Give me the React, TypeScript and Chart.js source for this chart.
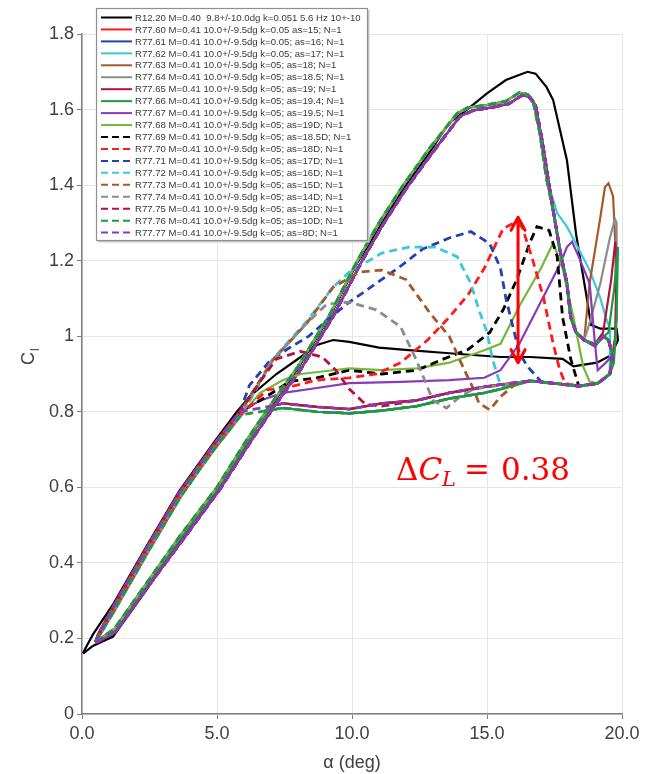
import { useEffect, useRef } from "react";
import { Chart, registerables } from "chart.js";
Chart.register(...registerables);

// ---------- axis ticks ----------
const X_TICKS = [0, 5, 10, 15, 20];
const Y_TICKS = [0, 0.2, 0.4, 0.6, 0.8, 1, 1.2, 1.4, 1.6, 1.8];

// ---------- shared R77 segments (alpha in deg, Cl) ----------
const UP_RISE_A = [0.5, 1.2, 2.4, 3.6, 5.0, 6.1, 7.0, 8.0, 9.2, 10.2, 11.0, 11.9, 12.9, 13.9, 14.3, 15.0, 15.7, 16.2, 16.5, 16.7, 16.96, 17.2];
const UP_RISE_C = [0.19, 0.225, 0.347, 0.468, 0.6, 0.725, 0.82, 0.92, 1.06, 1.2, 1.3, 1.4, 1.5, 1.59, 1.605, 1.612, 1.622, 1.645, 1.64, 1.625, 1.537, 1.42];
const UP_RISE_B_A = [0.55, 1.25, 2.45, 3.7, 5.1, 6.2, 7.1, 8.1, 9.3, 10.3, 11.1, 12.0, 13.0, 14.0, 14.5, 15.2, 15.8, 16.3, 16.55, 16.8, 17.05, 17.3];
const UP_RISE_B_C = [0.19, 0.218, 0.338, 0.458, 0.594, 0.716, 0.812, 0.912, 1.052, 1.19, 1.29, 1.39, 1.488, 1.582, 1.598, 1.606, 1.615, 1.638, 1.634, 1.612, 1.515, 1.4];
const UP_DROP_A = [17.45, 17.7, 17.96, 18.1, 18.3, 18.6];
const UP_DROP_C = [1.334, 1.228, 1.14, 1.05, 1.01, 0.99];
const UP_END_A = [19.0, 19.3, 19.5, 19.65];
const UP_END_C = [0.975, 1.0, 0.99, 0.95];
const DN_TOP_A = [19.55, 19.1, 18.4];
const DN_TOP_C = [0.9, 0.875, 0.868];
const DN_MID_A = [17.5, 16.6];
const DN_MID_C = [0.875, 0.882];
const PLAT_A = [15.5, 14.9, 13.6, 12.4, 11.1, 9.9, 8.7, 7.45, 7.0];
const PLAT_C = [0.872, 0.866, 0.85, 0.83, 0.822, 0.807, 0.813, 0.822, 0.815];
const PLAT_B_A = [15.5, 14.9, 13.6, 12.4, 11.1, 9.9, 8.7, 7.45, 7.0];
const PLAT_B_C = [0.86, 0.85, 0.835, 0.815, 0.803, 0.796, 0.8, 0.81, 0.805];
const RIGHT_DN_A = [6.5, 6.0, 5.0, 3.6, 2.4, 1.2, 0.5];
const RIGHT_DN_C = [0.765, 0.705, 0.595, 0.462, 0.342, 0.222, 0.19];
const LEFT_DN_A = [5.85, 4.9, 4.37, 3.6, 2.4, 1.15, 0.6, 0.5];
const LEFT_DN_C = [0.8, 0.715, 0.662, 0.585, 0.44, 0.283, 0.21, 0.19];
const LEFT_DN_B_A = [5.9, 4.95, 4.4, 3.65, 2.45, 1.2, 0.62, 0.52];
const LEFT_DN_B_C = [0.792, 0.706, 0.652, 0.575, 0.43, 0.274, 0.205, 0.19];

// ---------- series-specific segments ----------
const BLK_A = [0.04, 0.4, 1.15, 2.4, 3.6, 5.0, 6.1, 7.0, 8.0, 9.2, 10.2, 11.9, 12.9, 13.6, 14.26, 15.0, 15.7, 16.5, 16.8, 17.2, 17.45, 17.96, 18.3, 18.7, 18.85, 19.2, 19.8, 19.85, 19.6, 19.07, 18.2, 17.8, 16.6, 15.5, 13.6, 12.1, 11.0, 9.9, 9.3, 8.7, 8.1, 7.2, 6.2, 5.7, 4.9, 3.6, 2.4, 1.15, 0.4, 0.1, 0.04];
const BLK_C = [0.16, 0.18, 0.205, 0.33, 0.455, 0.595, 0.72, 0.815, 0.915, 1.055, 1.195, 1.39, 1.49, 1.565, 1.6, 1.643, 1.678, 1.7, 1.695, 1.66, 1.625, 1.466, 1.27, 1.1, 1.03, 1.02, 1.02, 0.99, 0.95, 0.93, 0.92, 0.94, 0.945, 0.945, 0.955, 0.963, 0.97, 0.985, 0.99, 0.977, 0.945, 0.9, 0.84, 0.797, 0.72, 0.59, 0.445, 0.29, 0.21, 0.17, 0.16];
const CYAN_A = [17.6, 17.96, 18.4, 18.8, 19.2, 19.4, 19.55];
const CYAN_C = [1.326, 1.29, 1.23, 1.175, 1.1, 1.05, 1.02];
const BROWN_A = [18.8, 19.2, 19.37, 19.5, 19.67, 19.75, 19.8, 19.7];
const BROWN_C = [1.14, 1.316, 1.395, 1.405, 1.37, 1.25, 1.05, 0.95];
const GRAY_A = [18.8, 19.2, 19.55, 19.74, 19.8, 19.8, 19.75];
const GRAY_C = [1.035, 1.14, 1.26, 1.31, 1.3, 1.14, 0.98];
const DRED_A = [19.0, 19.3, 19.6, 19.75, 19.8, 19.75];
const DRED_C = [0.98, 1.01, 1.15, 1.25, 1.2, 1.0];
const GRN_A = [19.0, 19.5, 19.7, 19.85, 19.8, 19.7];
const GRN_C = [0.98, 1.01, 1.12, 1.236, 1.05, 0.93];
const PURP_A = [19.4, 19.1, 19.0, 18.8, 18.4, 18.15, 17.96, 17.7, 17.2, 16.7, 16.2, 15.5, 14.9, 13.6, 11.8, 9.9, 8.7, 7.45, 6.6];
const PURP_C = [0.93, 0.91, 0.98, 1.14, 1.21, 1.25, 1.236, 1.19, 1.12, 1.05, 0.98, 0.91, 0.89, 0.884, 0.879, 0.876, 0.863, 0.85, 0.83];
const YG_A = [19.55, 19.1, 18.8, 18.56, 18.2, 17.8, 17.45, 17.0, 16.2, 15.5, 14.9, 13.6, 12.4, 11.1, 9.9, 9.3, 8.1, 7.45, 6.6];
const YG_C = [0.9, 0.875, 0.88, 0.92, 1.05, 1.18, 1.247, 1.18, 1.08, 0.98, 0.963, 0.93, 0.915, 0.91, 0.915, 0.91, 0.9, 0.884, 0.85];
const BD_A = [18.1, 17.8, 17.6, 17.3, 16.85, 16.6, 16.1, 15.6, 15.1, 14.3, 13.4, 12.4, 11.1, 9.9, 8.7, 7.7, 6.6];
const BD_C = [0.94, 1.05, 1.21, 1.28, 1.29, 1.25, 1.15, 1.07, 1.01, 0.965, 0.94, 0.91, 0.9, 0.91, 0.89, 0.88, 0.83];
const RD_A = [17.9, 17.7, 17.45, 17.1, 16.7, 16.3, 16.0, 15.6, 14.9, 14.3, 13.6, 12.8, 11.8, 10.9, 9.9, 8.7, 7.7, 6.85];
const RD_C = [0.875, 0.91, 0.98, 1.1, 1.2, 1.29, 1.3, 1.285, 1.18, 1.11, 1.05, 0.99, 0.93, 0.9, 0.89, 0.884, 0.866, 0.858];
const BLD_A = [17.5, 17.0, 16.5, 16.2, 15.96, 15.7, 15.5, 15.1, 14.4, 13.6, 12.6, 11.7, 10.7, 9.9, 9.2, 8.4, 7.7, 6.96, 6.2];
const BLD_C = [0.875, 0.88, 0.92, 0.955, 1.025, 1.1, 1.18, 1.245, 1.277, 1.26, 1.23, 1.18, 1.13, 1.09, 1.05, 1.0, 0.97, 0.935, 0.87];
const CD_A = [16.0, 15.5, 15.2, 15.0, 14.7, 14.4, 13.9, 13.1, 12.1, 11.1, 10.4, 9.9, 9.3, 8.33, 7.07];
const CD_C = [0.872, 0.87, 0.94, 1.01, 1.07, 1.14, 1.21, 1.236, 1.236, 1.22, 1.19, 1.17, 1.13, 1.04, 0.94];
const BRD_A = [16.0, 15.5, 15.1, 14.7, 14.5, 14.1, 13.6, 12.9, 12.0, 11.1, 10.3, 9.3, 8.33, 7.07];
const BRD_C = [0.87, 0.84, 0.805, 0.823, 0.86, 0.92, 1.0, 1.06, 1.15, 1.175, 1.17, 1.13, 1.035, 0.937];
const GD_A = [15.5, 14.5, 14.0, 13.5, 13.0, 12.6, 12.3, 11.8, 10.9, 9.9, 9.07, 8.33, 7.07];
const GD_C = [0.87, 0.86, 0.84, 0.81, 0.83, 0.9, 0.95, 1.025, 1.07, 1.09, 1.085, 1.035, 0.937];
const DRD_A = [15.5, 14.9, 13.6, 12.4, 11.1, 10.5, 9.9, 9.4, 8.9, 8.1, 7.2, 6.5];
const DRD_C = [0.872, 0.866, 0.85, 0.83, 0.815, 0.82, 0.86, 0.91, 0.945, 0.96, 0.94, 0.87];

// ---------- annotation ----------
const ARROW_ALPHA = 16.15;
const ARROW_CL = [0.93, 1.315];

type Seg = [number[], number[]];
const RA: Seg = [UP_RISE_A, UP_RISE_C];
const RB: Seg = [UP_RISE_B_A, UP_RISE_B_C];
const DROP: Seg = [UP_DROP_A, UP_DROP_C];
const END: Seg = [UP_END_A, UP_END_C];
const DT: Seg = [DN_TOP_A, DN_TOP_C];
const DM: Seg = [DN_MID_A, DN_MID_C];
const PA: Seg = [PLAT_A, PLAT_C];
const PB: Seg = [PLAT_B_A, PLAT_B_C];
const RD: Seg = [RIGHT_DN_A, RIGHT_DN_C];
const LA: Seg = [LEFT_DN_A, LEFT_DN_C];
const LB: Seg = [LEFT_DN_B_A, LEFT_DN_B_C];

const SERIES: { label: string; color: string; dash: boolean; parts: Seg[] }[] = [
  { label: "R12.20 M=0.40  9.8+/-10.0dg k=0.051 5.6 Hz 10+-10", color: "#000000", dash: false, parts: [[BLK_A, BLK_C]] },
  { label: "R77.60 M=0.41 10.0+/-9.5dg k=0.05 as=15; N=1", color: "#ff1a1a", dash: false, parts: [RA, DROP, END, DT, DM, PA, RD] },
  { label: "R77.61 M=0.41 10.0+/-9.5dg k=0.05; as=16; N=1", color: "#2342b0", dash: false, parts: [RB, DROP, END, DT, DM, PB, RD] },
  { label: "R77.62 M=0.41 10.0+/-9.5dg k=0.05; as=17; N=1", color: "#3cc8d8", dash: false, parts: [RA, [CYAN_A, CYAN_C], DT, DM, PB, RD] },
  { label: "R77.63 M=0.41 10.0+/-9.5dg k=05; as=18; N=1", color: "#a5582a", dash: false, parts: [RB, DROP, [BROWN_A, BROWN_C], DT, DM, PA, RD] },
  { label: "R77.64 M=0.41 10.0+/-9.5dg k=05; as=18.5; N=1", color: "#8c8c8c", dash: false, parts: [RA, DROP, [GRAY_A, GRAY_C], DT, DM, PB, RD] },
  { label: "R77.65 M=0.41 10.0+/-9.5dg k=05; as=19; N=1", color: "#b3123f", dash: false, parts: [RB, DROP, [DRED_A, DRED_C], DT, DM, PA, RD] },
  { label: "R77.66 M=0.41 10.0+/-9.5dg k=05; as=19.4; N=1", color: "#1b9a40", dash: false, parts: [RA, DROP, [GRN_A, GRN_C], DT, DM, PB, RD] },
  { label: "R77.67 M=0.41 10.0+/-9.5dg k=05; as=19.5; N=1", color: "#8a3ab9", dash: false, parts: [RB, DROP, END, [PURP_A, PURP_C], LA] },
  { label: "R77.68 M=0.41 10.0+/-9.5dg k=05; as=19D; N=1", color: "#74b83a", dash: false, parts: [RA, DROP, END, [YG_A, YG_C], LB] },
  { label: "R77.69 M=0.41 10.0+/-9.5dg k=05; as=18.5D; N=1", color: "#000000", dash: true, parts: [RB, DROP, END, DT, [BD_A, BD_C], LA] },
  { label: "R77.70 M=0.41 10.0+/-9.5dg k=05; as=18D; N=1", color: "#ff1a1a", dash: true, parts: [RA, DROP, END, DT, [RD_A, RD_C], LB] },
  { label: "R77.71 M=0.41 10.0+/-9.5dg k=05; as=17D; N=1", color: "#2342b0", dash: true, parts: [RB, DROP, END, DT, [BLD_A, BLD_C], LA] },
  { label: "R77.72 M=0.41 10.0+/-9.5dg k=05; as=16D; N=1", color: "#3cc8d8", dash: true, parts: [RA, DROP, END, DT, DM, [CD_A, CD_C], LB] },
  { label: "R77.73 M=0.41 10.0+/-9.5dg k=05; as=15D; N=1", color: "#a5582a", dash: true, parts: [RB, DROP, END, DT, DM, [BRD_A, BRD_C], LA] },
  { label: "R77.74 M=0.41 10.0+/-9.5dg k=05; as=14D; N=1", color: "#8c8c8c", dash: true, parts: [RA, DROP, END, DT, DM, [GD_A, GD_C], LB] },
  { label: "R77.75 M=0.41 10.0+/-9.5dg k=05; as=12D; N=1", color: "#b3123f", dash: true, parts: [RB, DROP, END, DT, DM, [DRD_A, DRD_C], LA] },
  { label: "R77.76 M=0.41 10.0+/-9.5dg k=05; as=10D; N=1", color: "#1b9a40", dash: true, parts: [RA, DROP, END, DT, DM, PB, LB] },
  { label: "R77.77 M=0.41 10.0+/-9.5dg k=05; as=8D; N=1", color: "#8a3ab9", dash: true, parts: [RB, DROP, END, DT, DM, PA, LA] },
];

const toPoints = (parts: Seg[]) => parts.flatMap(([a, c]) => a.map((x, i) => ({ x, y: c[i] })));

const DASH = [8, 5];

const overlayPlugin = {
  id: "overlay",
  afterDatasetsDraw(chart: any) {
    const ctx = chart.ctx;
    const xs = chart.scales.x;
    const ys = chart.scales.y;
    const px = xs.getPixelForValue(ARROW_ALPHA);
    const yb = ys.getPixelForValue(ARROW_CL[0]);
    const yt = ys.getPixelForValue(ARROW_CL[1]);
    ctx.save();
    ctx.strokeStyle = "#ff0000";
    ctx.lineWidth = 3;
    ctx.setLineDash([]);
    ctx.lineCap = "round";
    ctx.lineJoin = "round";
    ctx.beginPath();
    ctx.moveTo(px, yb);
    ctx.lineTo(px, yt);
    ctx.moveTo(px - 7, yt + 13);
    ctx.lineTo(px, yt);
    ctx.lineTo(px + 7, yt + 13);
    ctx.moveTo(px - 7, yb - 13);
    ctx.lineTo(px, yb);
    ctx.lineTo(px + 7, yb - 13);
    ctx.stroke();
    ctx.fillStyle = "#ff0000";
    ctx.textBaseline = "alphabetic";
    ctx.textAlign = "left";
    let x = 396;
    const base = 480;
    ctx.font = '31px "DejaVu Serif"';
    ctx.fillText("Δ", x, base);
    x += ctx.measureText("Δ").width;
    ctx.font = 'italic 31px "DejaVu Serif"';
    ctx.fillText("C", x, base);
    x += ctx.measureText("C").width;
    ctx.font = 'italic 21px "DejaVu Serif"';
    ctx.fillText("L", x, base + 6);
    x += ctx.measureText("L").width + 8;
    ctx.font = '31px "DejaVu Serif"';
    ctx.fillText("=", x, base);
    x += ctx.measureText("=").width + 11;
    ctx.fillText("0.38", x, base);
    ctx.restore();
  },
  afterDraw(chart: any) {
    const ctx = chart.ctx;
    ctx.save();
    ctx.fillStyle = "#404040";
    ctx.font = '18px "Liberation Sans"';
    ctx.textAlign = "center";
    ctx.textBaseline = "middle";
    ctx.fillText("α (deg)", 352, 763);
    ctx.translate(34, 358);
    ctx.rotate(-Math.PI / 2);
    ctx.textAlign = "left";
    ctx.textBaseline = "alphabetic";
    ctx.font = '18px "Liberation Sans"';
    ctx.fillText("C", -7, 0);
    const wC = ctx.measureText("C").width;
    ctx.font = '12px "Liberation Sans"';
    ctx.fillText("l", -7 + wC + 1, 5);
    ctx.restore();

    ctx.save();
    const lx = 96, ly = 8, lw = 271, lh = 232;
    ctx.fillStyle = "#ffffff";
    ctx.fillRect(lx, ly, lw, lh);
    ctx.strokeStyle = "#c8c8c8";
    ctx.lineWidth = 2;
    ctx.beginPath();
    ctx.moveTo(lx + 2, ly + lh + 1.5);
    ctx.lineTo(lx + lw + 1.5, ly + lh + 1.5);
    ctx.lineTo(lx + lw + 1.5, ly + 2);
    ctx.stroke();
    ctx.strokeStyle = "#8f8f8f";
    ctx.lineWidth = 1.2;
    ctx.strokeRect(lx + 0.5, ly + 0.5, lw, lh);
    ctx.textAlign = "left";
    ctx.textBaseline = "middle";
    ctx.font = '9.6px "Liberation Sans"';
    SERIES.forEach((s, i) => {
      const y = 17.5 + i * 11.95;
      ctx.strokeStyle = s.color;
      ctx.lineWidth = 2;
      ctx.setLineDash(s.dash ? [7, 4] : []);
      ctx.beginPath();
      ctx.moveTo(101, y);
      ctx.lineTo(132, y);
      ctx.stroke();
      ctx.setLineDash([]);
      ctx.fillStyle = "#3a3a3a";
      ctx.fillText(s.label, 135, y + 0.5);
    });
    ctx.restore();
  },
};

export default function App() {
  const ref = useRef<HTMLCanvasElement | null>(null);
  useEffect(() => {
    document.body.style.margin = "0";
    const canvas = ref.current;
    if (!canvas) return;
    const n = SERIES.length;
    const chart = new Chart(canvas, {
      type: "scatter",
      data: {
        datasets: SERIES.map((s, i) => ({
          label: s.label,
          data: toPoints(s.parts),
          showLine: true,
          borderColor: s.color,
          backgroundColor: s.color,
          borderWidth: s.dash ? 2.8 : 2.2,
          borderDash: s.dash ? DASH : [],
          pointRadius: 0,
          tension: 0,
          fill: false,
          order: n - i,
        })),
      },
      options: {
        animation: false,
        responsive: false,
        devicePixelRatio: 1,
        layout: { padding: { left: 0, top: 34, right: 33, bottom: 0 } },
        plugins: { legend: { display: false }, tooltip: { enabled: false } },
        scales: {
          x: {
            type: "linear",
            min: 0,
            max: 20,
            afterFit: (s: any) => { s.height = 60; },
            afterBuildTicks: (s: any) => { s.ticks = X_TICKS.map((v) => ({ value: v })); },
            ticks: {
              callback: (v: any) => Number(v).toFixed(1),
              font: { family: "Liberation Sans", size: 18 },
              color: "#404040",
              padding: 4,
              maxRotation: 0,
            },
            grid: { color: "#e6e6e6", lineWidth: 1, tickLength: 5, tickColor: "#7f7f7f" },
            border: { color: "#7f7f7f", width: 1.5 },
          },
          y: {
            type: "linear",
            min: 0,
            max: 1.8,
            afterFit: (s: any) => { s.width = 82; },
            afterBuildTicks: (s: any) => { s.ticks = Y_TICKS.map((v) => ({ value: v })); },
            ticks: {
              callback: (v: any) => String(Math.round(Number(v) * 10) / 10),
              font: { family: "Liberation Sans", size: 18 },
              color: "#404040",
              padding: 3,
            },
            grid: { color: "#e6e6e6", lineWidth: 1, tickLength: 5, tickColor: "#7f7f7f" },
            border: { color: "#7f7f7f", width: 1.5 },
          },
        },
      },
      plugins: [overlayPlugin],
    } as any);
    return () => chart.destroy();
  }, []);
  return (
    <div style={{ width: 655, height: 774, background: "#ffffff" }}>
      <canvas ref={ref} width={655} height={774} style={{ display: "block" }} />
    </div>
  );
}
